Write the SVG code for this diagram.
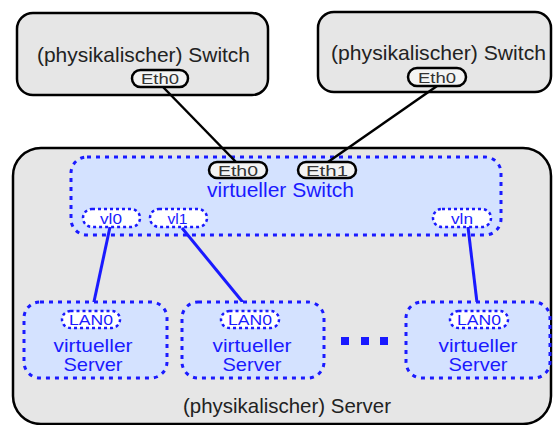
<svg xmlns="http://www.w3.org/2000/svg" width="553" height="425" viewBox="0 0 553 425">
<style>
.phys{fill:#e6e6e6;stroke:#000;stroke-width:2.5}
.vbox{fill:#d4e2ff;stroke:#1a1aff;stroke-width:3;stroke-dasharray:4 5}
.vpill{fill:#fff;stroke:#1a1aff;stroke-width:2.5;stroke-dasharray:3 3}
.ppill{fill:#f4f4f4;stroke:#000;stroke-width:2.5}
.t{font-family:"Liberation Sans",Arial,sans-serif;text-anchor:middle}
.big{font-size:21px;fill:#222}
.vt{font-size:20px;fill:#1a1aff}
.vs{font-size:18.5px;fill:#1a1aff}
.pt{font-size:15px;fill:#333}
.vpt{font-size:15px;fill:#1a1aff}
.bl{stroke:#000;stroke-width:2.5;fill:none}
.blu{stroke:#1a1aff;stroke-width:3;fill:none}
</style>
<g id="server">
<rect class="phys" x="13" y="148" width="538" height="276" rx="28"/>
<text class="t big" x="287" y="413" textLength="208" lengthAdjust="spacingAndGlyphs">(physikalischer) Server</text>
</g>
<g id="switch1">
<rect class="phys" x="17" y="13" width="251" height="82" rx="16"/>
<text class="t big" x="143.5" y="62" textLength="213" lengthAdjust="spacingAndGlyphs">(physikalischer) Switch</text>
<rect class="ppill" x="132" y="70" width="56" height="17" rx="8.5"/>
<text class="t pt" x="160" y="84" textLength="38" lengthAdjust="spacingAndGlyphs">Eth0</text>
</g>
<g id="switch2">
<rect class="phys" x="318" y="12" width="233" height="80" rx="16"/>
<text class="t big" x="438.5" y="60" textLength="215" lengthAdjust="spacingAndGlyphs">(physikalischer) Switch</text>
<rect class="ppill" x="408" y="68" width="58" height="18" rx="9"/>
<text class="t pt" x="437" y="82.5" textLength="38" lengthAdjust="spacingAndGlyphs">Eth0</text>
</g>
<g id="vswitch">
<rect class="vbox" x="71" y="157" width="430" height="78" rx="16"/>
<text class="t vt" x="280.5" y="197" textLength="147" lengthAdjust="spacingAndGlyphs">virtueller Switch</text>
<rect class="ppill" x="209" y="162" width="58" height="16" rx="8"/>
<text class="t pt" x="238" y="175.5" textLength="40" lengthAdjust="spacingAndGlyphs">Eth0</text>
<rect class="ppill" x="298" y="162" width="58" height="16" rx="8"/>
<text class="t pt" x="327" y="175.5" textLength="42" lengthAdjust="spacingAndGlyphs">Eth1</text>
<rect class="vpill" x="83" y="209" width="57" height="18" rx="9"/>
<text class="t vpt" x="111" y="224" textLength="22" lengthAdjust="spacingAndGlyphs">vl0</text>
<rect class="vpill" x="150" y="209" width="57" height="18" rx="9"/>
<text class="t vpt" x="177.5" y="224" textLength="20" lengthAdjust="spacingAndGlyphs">vl1</text>
<rect class="vpill" x="433" y="209" width="58" height="18" rx="9"/>
<text class="t vpt" x="462" y="224" textLength="22" lengthAdjust="spacingAndGlyphs">vln</text>
</g>
<g id="connectors">
<line class="bl" x1="163" y1="87" x2="236" y2="162"/>
<line class="bl" x1="437" y1="86" x2="328" y2="162"/>
<line class="blu" x1="110" y1="227" x2="92" y2="311"/>
<line class="blu" x1="182" y1="228" x2="250" y2="311"/>
<line class="blu" x1="468" y1="227" x2="478" y2="311"/>
</g>
<g id="vserver1">
<rect class="vbox" x="24" y="302" width="143" height="76" rx="16"/>
<rect class="vpill" x="62" y="311" width="58" height="17" rx="8.5"/>
<text class="t vpt" x="91" y="325" textLength="44" lengthAdjust="spacingAndGlyphs">LAN0</text>
<text class="t vs" x="93" y="352" textLength="79" lengthAdjust="spacingAndGlyphs">virtueller</text>
<text class="t vs" x="93" y="371" textLength="59" lengthAdjust="spacingAndGlyphs">Server</text>
</g>
<g id="vserver2">
<rect class="vbox" x="182" y="302" width="142" height="76" rx="16"/>
<rect class="vpill" x="221" y="311" width="58" height="17" rx="8.5"/>
<text class="t vpt" x="250" y="325" textLength="44" lengthAdjust="spacingAndGlyphs">LAN0</text>
<text class="t vs" x="252" y="352" textLength="79" lengthAdjust="spacingAndGlyphs">virtueller</text>
<text class="t vs" x="252" y="371" textLength="59" lengthAdjust="spacingAndGlyphs">Server</text>
</g>
<g id="ellipsis" fill="#1a1aff">
<rect x="341" y="337" width="8" height="8"/>
<rect x="361" y="337" width="8" height="8"/>
<rect x="380" y="337" width="8" height="8"/>
</g>
<g id="vserver3">
<rect class="vbox" x="406" y="302" width="144" height="76" rx="16"/>
<rect class="vpill" x="450" y="311" width="58" height="17" rx="8.5"/>
<text class="t vpt" x="479" y="325" textLength="44" lengthAdjust="spacingAndGlyphs">LAN0</text>
<text class="t vs" x="478" y="352" textLength="79" lengthAdjust="spacingAndGlyphs">virtueller</text>
<text class="t vs" x="478" y="371" textLength="59" lengthAdjust="spacingAndGlyphs">Server</text>
</g>
</svg>
